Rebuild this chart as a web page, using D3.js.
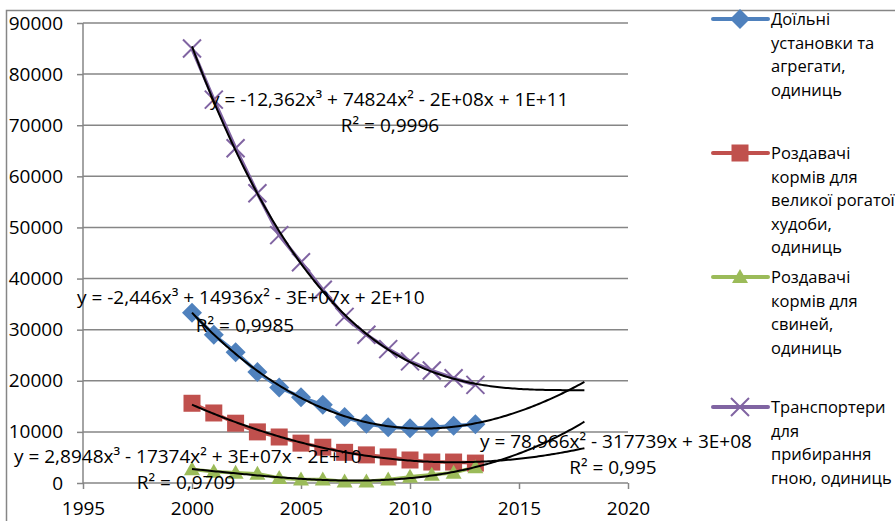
<!DOCTYPE html>
<html><head><meta charset="utf-8">
<script src="https://cdn.jsdelivr.net/npm/d3@7"></script>
<style>body{margin:0;background:#fff}svg{display:block;font-family:"Open Sans",sans-serif}</style>
</head><body><svg id="c" width="895" height="521"></svg>
<script>
const years = [2000,2001,2002,2003,2004,2005,2006,2007,2008,2009,2010,2011,2012,2013];
const milking = [33300,29000,25600,21700,18700,16800,15300,12900,11600,10900,10700,10900,11200,11500];
const cattleFeeders = [15600,13700,11700,10000,9000,7800,7000,6000,5500,5100,4500,4100,4100,3900];
const pigFeeders = [2700,2200,2000,1800,1000,700,700,300,300,700,1200,1600,2000,3100];
const manure = [85000,75000,65500,56700,48500,43200,37800,32500,29000,26200,23800,22000,20500,19200];
const xTicks = [1995,2000,2005,2010,2015,2020];
const yTicks = [0,10000,20000,30000,40000,50000,60000,70000,80000,90000];
const seriesNames = [
  ["Доїльні","установки та","агрегати,","одиниць"],
  ["Роздавачі","кормів для","великої рогатої","худоби,","одиниць"],
  ["Роздавачі","кормів для","свиней,","одиниць"],
  ["Транспортери","для","прибирання","гною, одиниць"]
];
const equations = [
  ["y = -2,446x³ + 14936x² - 3E+07x + 2E+10","R² = 0,9985"],
  ["y = 78,966x² - 317739x + 3E+08","R² = 0,995"],
  ["y = 2,8948x³ - 17374x² + 3E+07x - 2E+10","R² = 0,9709"],
  ["y = -12,362x³ + 74824x² - 2E+08x + 1E+11","R² = 0,9996"]
];
const trendOrders = [3,2,3,3];
const trendEnd = 2018;

const svg = d3.select("#c");
const x = d3.scaleLinear().domain([1995,2020]).range([83,628]);
const y = d3.scaleLinear().domain([0,90000]).range([483,23]);
const grey = "#868686";
const colors = ["#4F81BD","#C0504D","#9BBB59","#8064A2"];
const data = [milking,cattleFeeders,pigFeeders,manure];
const fs = 19;

// outer border
svg.append("path").attr("d","M6.5,521 V10.5 H895").attr("fill","none").attr("stroke",grey).attr("stroke-width",1.5);

// gridlines
svg.append("g").selectAll("line").data(yTicks.slice(1)).join("line")
  .attr("x1",83).attr("x2",628).attr("y1",d=>y(d)).attr("y2",d=>y(d))
  .attr("stroke",grey).attr("stroke-width",1.5);

// axes
const ya = svg.append("g").attr("transform","translate(83,0)")
  .call(d3.axisLeft(y).tickValues(yTicks).tickSize(6).tickPadding(14).tickFormat(d3.format("d")));
const xa = svg.append("g").attr("transform","translate(0,483)")
  .call(d3.axisBottom(x).tickValues(xTicks).tickSize(6).tickPadding(13).tickFormat(d3.format("d")));
[ya,xa].forEach(a=>{
  a.select(".domain").attr("stroke",grey).attr("stroke-width",1.5);
  a.selectAll(".tick line").attr("stroke",grey).attr("stroke-width",1.5);
  a.selectAll("text").attr("fill","#000").attr("font-size",fs).attr("font-family","'Open Sans',sans-serif");
});
ya.select(".domain").attr("d","M0,483V23");
xa.select(".domain").attr("d","M83,0H628");

// polynomial least squares fit (t = year - 2000)
function polyfit(xs, ys, n){
  const m = n+1, A = Array.from({length:m},()=>new Array(m+1).fill(0));
  xs.forEach((xv,i)=>{
    for(let r=0;r<m;r++){
      for(let c=0;c<m;c++) A[r][c]+=Math.pow(xv,r+c);
      A[r][m]+=ys[i]*Math.pow(xv,r);
    }
  });
  for(let i=0;i<m;i++){
    let p=i; for(let k=i+1;k<m;k++) if(Math.abs(A[k][i])>Math.abs(A[p][i])) p=k;
    [A[i],A[p]]=[A[p],A[i]];
    for(let k=i+1;k<m;k++){const f=A[k][i]/A[i][i]; for(let c=i;c<=m;c++) A[k][c]-=f*A[i][c];}
  }
  const co=new Array(m).fill(0);
  for(let i=m-1;i>=0;i--){let s=A[i][m]; for(let c=i+1;c<m;c++) s-=A[i][c]*co[c]; co[i]=s/A[i][i];}
  return t=>co.reduce((s,c,i)=>s+c*Math.pow(t,i),0);
}

const line = d3.line().x(d=>x(d[0])).y(d=>y(d[1]));

// series lines
data.forEach((vals,si)=>{
  svg.append("path").datum(years.map((yr,i)=>[yr,vals[i]])).attr("d",line)
    .attr("fill","none").attr("stroke",colors[si]).attr("stroke-width",3.5).attr("stroke-linejoin","round");
});

function marker(g, si, cx, cy){
  const c = colors[si];
  if(si===0){ g.append("path").attr("d",`M${cx},${cy-10}L${cx+10},${cy}L${cx},${cy+10}L${cx-10},${cy}Z`).attr("fill",c); }
  else if(si===1){ g.append("rect").attr("x",cx-8.5).attr("y",cy-8.5).attr("width",17).attr("height",17).attr("fill",c); }
  else if(si===2){ g.append("path").attr("d",`M${cx},${cy-8}L${cx+8},${cy+6}L${cx-8},${cy+6}Z`).attr("fill",c); }
  else { g.append("path").attr("d",`M${cx-9},${cy-9}L${cx+9},${cy+9}M${cx+9},${cy-9}L${cx-9},${cy+9}`).attr("stroke",c).attr("stroke-width",2); }
}

// markers
data.forEach((vals,si)=>{
  const g = svg.append("g");
  years.forEach((yr,i)=>marker(g,si,x(yr),y(vals[i])));
});

// trendlines
data.forEach((vals,si)=>{
  const f = polyfit(years.map(d=>d-2000), vals, trendOrders[si]);
  const pts = d3.range(2000, trendEnd+0.001, 0.1).map(t=>[t,f(t-2000)]);
  svg.append("path").datum(pts).attr("d",line).attr("fill","none").attr("stroke","#000").attr("stroke-width",2);
});

// equation labels
const eqPos = [[77,304,245,332],[480,448,613,474],[14,463,186,489],[210,106,390,132]];
equations.forEach((eq,i)=>{
  const p = eqPos[i];
  svg.append("text").attr("x",p[0]).attr("y",p[1]).attr("font-size",fs).text(eq[0]);
  svg.append("text").attr("x",p[2]).attr("y",p[3]).attr("font-size",fs).attr("text-anchor","middle").text(eq[1]);
});

// legend
const legY = [19,153,277,407];
seriesNames.forEach((lines,si)=>{
  const g = svg.append("g");
  g.append("line").attr("x1",713).attr("x2",768).attr("y1",legY[si]).attr("y2",legY[si])
    .attr("stroke",colors[si]).attr("stroke-width",4).attr("stroke-linecap","round");
  marker(g, si, 740, legY[si]);
  lines.forEach((t,li)=>{
    g.append("text").attr("x",771).attr("y",legY[si]+li*23.5+6).attr("font-size",16.5).text(t);
  });
});
</script></body></html>
